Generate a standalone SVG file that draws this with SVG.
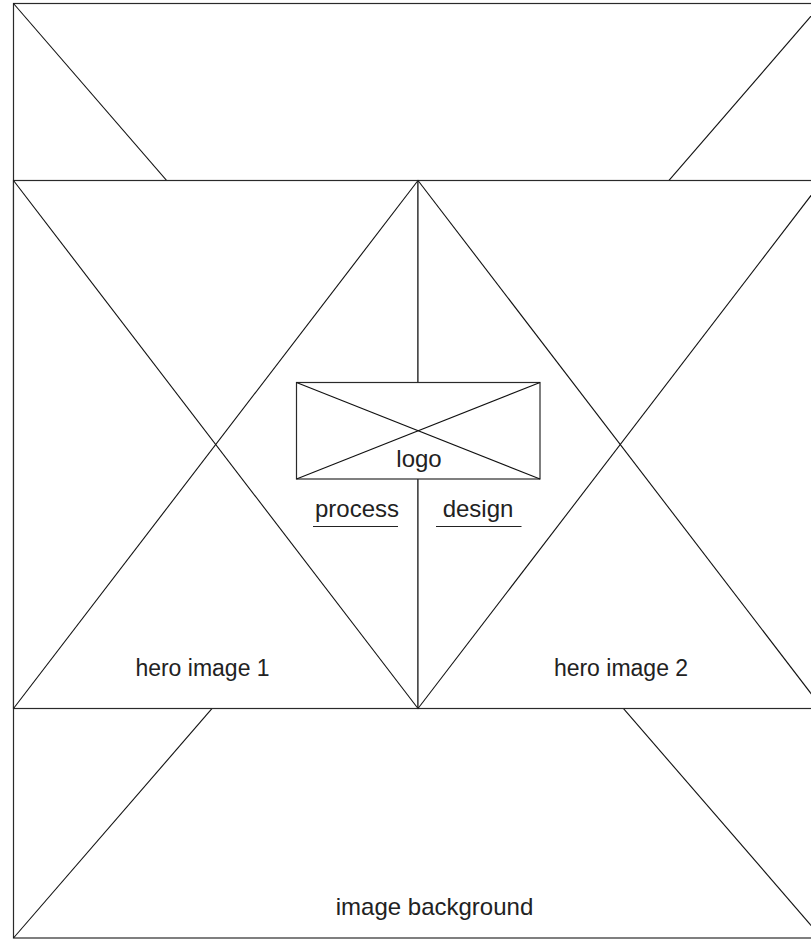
<svg xmlns="http://www.w3.org/2000/svg" width="811" height="939" viewBox="0 0 811 939">
<style>
.box{fill:#fff;stroke:#2a2a2a;stroke-width:1.2}
.x{stroke:#111;stroke-width:1.1;fill:none}
.t{font-family:"Liberation Sans",Arial,sans-serif;font-size:23px;fill:#222;text-anchor:middle}
.l{font-size:24px}
.u{stroke:#222;stroke-width:1.2}
</style>
<rect width="811" height="939" fill="#fff"/>
<g id="background">
<rect class="box" x="13.5" y="3.5" width="808.5" height="934.5"/>
<line class="x" x1="13.5" y1="3.5" x2="822" y2="938"/>
<line class="x" x1="822" y1="3.5" x2="13.5" y2="938"/>
<text class="t l" x="434.5" y="915">image background</text>
</g>
<g id="hero1">
<rect class="box" x="13.5" y="180.5" width="404.5" height="528"/>
<line class="x" x1="13.5" y1="180.5" x2="418" y2="708.5"/>
<line class="x" x1="418" y1="180.5" x2="13.5" y2="708.5"/>
<text class="t" x="202.5" y="676">hero image 1</text>
</g>
<g id="hero2">
<rect class="box" x="418" y="180.5" width="404.5" height="528"/>
<line class="x" x1="418" y1="180.5" x2="822.5" y2="708.5"/>
<line class="x" x1="822.5" y1="180.5" x2="418" y2="708.5"/>
<text class="t" x="621" y="676">hero image 2</text>
</g>
<g id="logo">
<rect class="box" x="296.5" y="382.5" width="243.5" height="96.5"/>
<line class="x" x1="296.5" y1="382.5" x2="540" y2="479"/>
<line class="x" x1="540" y1="382.5" x2="296.5" y2="479"/>
<text class="t l" x="419" y="467">logo</text>
</g>
<g id="process">
<text class="t l" x="357" y="517">process</text>
<line class="u" x1="313" y1="526.5" x2="398" y2="526.5"/>
</g>
<g id="design">
<text class="t l" x="478" y="517">design</text>
<line class="u" x1="436" y1="526.5" x2="521.5" y2="526.5"/>
</g>
<g id="connectors"></g>
</svg>
